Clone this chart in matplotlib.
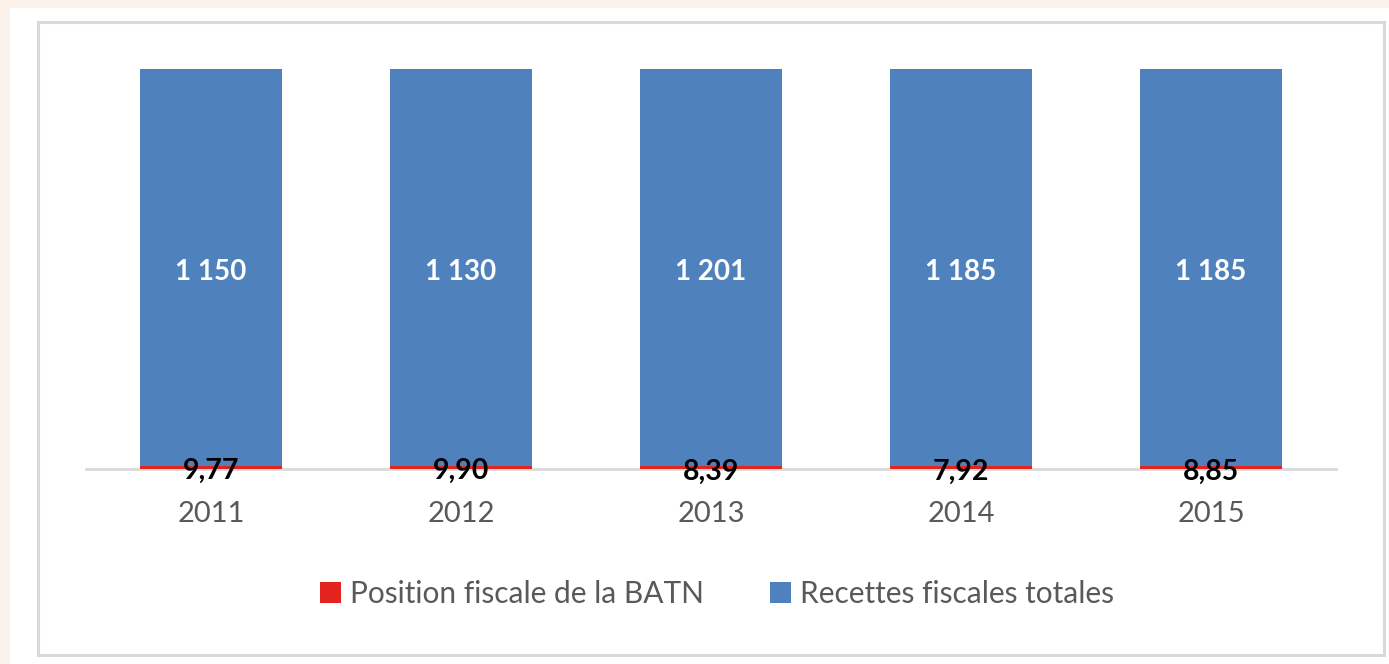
import matplotlib
matplotlib.use("Agg")
import matplotlib.pyplot as plt
from matplotlib.patches import Rectangle
import matplotlib.transforms as mtransforms
import numpy as np

years = ["2011", "2012", "2013", "2014", "2015"]
batn = [9.77, 9.90, 8.39, 7.92, 8.85]
recettes = [1150, 1130, 1201, 1185, 1185]
batn_labels = ["9,77", "9,90", "8,39", "7,92", "8,85"]
recettes_labels = ["1 150", "1 130", "1 201", "1 185", "1 185"]

plt.rcParams['font.family'] = ['Lato', 'DejaVu Sans']

W, H = 1389, 664
fig = plt.figure(figsize=(W / 100, H / 100), dpi=100, facecolor='white')

# beige outer frame strips
beige = '#FCF2EC'
fig.patches.append(Rectangle((0, 1 - 8 / H), 1, 8 / H, transform=fig.transFigure,
                             facecolor=beige, edgecolor='none', zorder=0))
fig.patches.append(Rectangle((0, 0), 10 / W, 1, transform=fig.transFigure,
                             facecolor=beige, edgecolor='none', zorder=0))
# inner chart border
fig.patches.append(Rectangle((38 / W, 1 - 655 / H), (1384 - 38) / W, (655 - 22) / H,
                             transform=fig.transFigure, facecolor='white',
                             edgecolor='#D9D9D9', linewidth=2.2, zorder=0.5))

ax = fig.add_axes([86 / W, 1 - 469 / H, 1250 / W, 400 / H])
ax.set_zorder(2)
ax.set_facecolor('none')

x = np.arange(len(years))
tot = np.array(batn) + np.array(recettes)
b_share = np.array(batn) / tot
r_share = np.array(recettes) / tot
width = 0.57

ax.bar(x, b_share, width, color='#E3231E', zorder=2)
ax.bar(x, r_share, width, bottom=b_share, color='#4F81BD', zorder=2)

blue_off = mtransforms.offset_copy(ax.transData, fig=fig, x=0, y=-4.5, units='dots')
red_off = mtransforms.offset_copy(ax.transData, fig=fig, x=0, y=-4, units='dots')
for i in range(len(years)):
    ax.text(x[i], b_share[i] + r_share[i] / 2, recettes_labels[i], ha='center', va='center',
            color='white', fontsize=20, fontweight='bold', zorder=3, transform=blue_off)
    ax.text(x[i], b_share[i] / 2, batn_labels[i], ha='center', va='center',
            color='black', fontsize=20.5, fontweight='bold', zorder=3, transform=red_off)

ax.set_xlim(-0.5, len(years) - 0.5)
ax.set_ylim(0, 1)
ax.set_xticks(x)
ax.set_xticklabels(years, fontsize=21, color='#595959')
ax.tick_params(axis='x', length=0, pad=23)
ax.set_yticks([])
for s in ['top', 'right', 'left']:
    ax.spines[s].set_visible(False)
ax.spines['bottom'].set_color('#D9D9D9')
ax.spines['bottom'].set_linewidth(2)
ax.spines['bottom'].set_zorder(1)

handles = [Rectangle((0, 0), 1, 1, facecolor='#E3231E'),
           Rectangle((0, 0), 1, 1, facecolor='#4F81BD')]
leg = fig.legend(handles, ["Position fiscale de la BATN", "Recettes fiscales totales"],
                 loc='center', bbox_to_anchor=(717 / W, 1 - 594 / H), ncol=2, frameon=False,
                 fontsize=21.5, labelcolor='#595959', handlelength=0.72, handleheight=0.72,
                 handletextpad=0.3, columnspacing=2.2)
leg.set_zorder(3)

fig.savefig('out.png', dpi=100, facecolor='white')
